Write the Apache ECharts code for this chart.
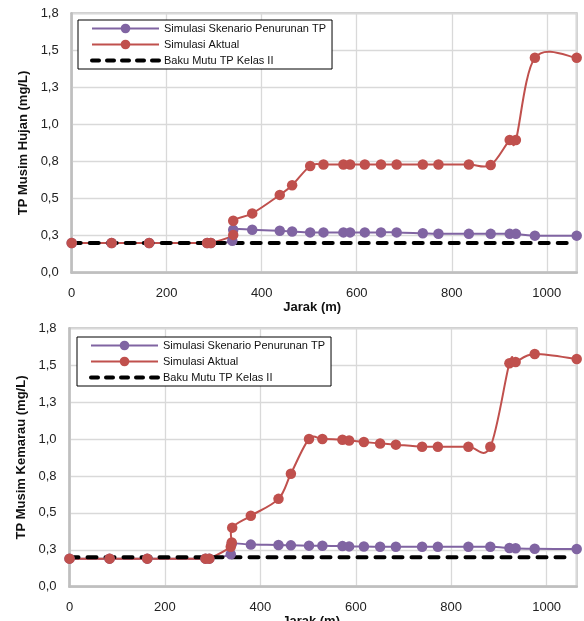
<!DOCTYPE html>
<html>
<head>
<meta charset="utf-8">
<script src="https://cdn.jsdelivr.net/npm/echarts@6/dist/echarts.min.js"></script>
<style>
html,body{margin:0;padding:0;background:#fff;}
#c{width:584px;height:621px;}
</style>
</head>
<body>
<div id="c"></div>
<script>
// ---- data ----
const seriesNames = ['Simulasi Skenario Penurunan TP', 'Simulasi Aktual', 'Baku Mutu TP Kelas II'];
const xAxisName = 'Jarak (m)';
const yAxisNames = ['TP Musim Hujan (mg/L)', 'TP Musim Kemarau (mg/L)'];
const yTickLabels = ['0,0', '0,3', '0,5', '0,8', '1,0', '1,3', '1,5', '1,8'];
const xTickLabels = ['0', '200', '400', '600', '800', '1000'];

// Musim Hujan (top)
const hujanAktualX = [0, 84, 163, 285, 293, 340, 340, 380, 438, 464, 502, 530, 572, 586, 617, 651, 684, 739, 772, 836, 882, 922, 935, 975, 1063];
const hujanAktualY = [0.2, 0.2, 0.2, 0.2, 0.2, 0.255, 0.35, 0.40, 0.525, 0.59, 0.72, 0.73, 0.73, 0.73, 0.73, 0.73, 0.73, 0.73, 0.73, 0.73, 0.726, 0.895, 0.895, 1.45, 1.45];
const hujanSkenarioX = [0, 84, 163, 285, 293, 338, 340, 380, 438, 464, 502, 530, 572, 586, 617, 651, 684, 739, 772, 836, 882, 922, 935, 975, 1063];
const hujanSkenarioY = [0.2, 0.2, 0.2, 0.2, 0.2, 0.215, 0.29, 0.29, 0.283, 0.278, 0.272, 0.272, 0.272, 0.272, 0.272, 0.272, 0.272, 0.266, 0.263, 0.262, 0.262, 0.262, 0.262, 0.25, 0.25];

// Musim Kemarau (bottom)
const kemarauAktualX = [0, 84, 163, 285, 293, 338, 340, 341, 380, 438, 464, 502, 530, 572, 586, 617, 651, 684, 739, 772, 836, 882, 922, 935, 975, 1063];
const kemarauAktualY = [0.19, 0.19, 0.19, 0.19, 0.19, 0.27, 0.30, 0.40, 0.48, 0.595, 0.765, 1.0, 1.0, 0.995, 0.99, 0.98, 0.97, 0.962, 0.948, 0.948, 0.948, 0.948, 1.513, 1.522, 1.576, 1.542];
const kemarauSkenarioX = [0, 84, 163, 285, 293, 338, 340, 380, 438, 464, 502, 530, 572, 586, 617, 651, 684, 739, 772, 836, 882, 922, 935, 975, 1063];
const kemarauSkenarioY = [0.19, 0.19, 0.19, 0.19, 0.19, 0.22, 0.29, 0.285, 0.283, 0.28, 0.278, 0.277, 0.275, 0.273, 0.272, 0.271, 0.271, 0.27, 0.27, 0.27, 0.27, 0.262, 0.26, 0.257, 0.255];

// Baku mutu (both)
const bakuX = [0, 1055];
const bakuY = [0.2, 0.2];

// ---- chart ----
const pairs = (xs, ys) => xs.map((x, i) => [x, ys[i]]);
const FONT = 'Liberation Sans, Arial, sans-serif';
const PURPLE = '#8064A2', RED = '#C0504D';
const X_MAX = 1063;

function xAxisOf(gi) {
  return {
    type: 'value', gridIndex: gi, min: 0, max: X_MAX, interval: 200,
    name: xAxisName, nameLocation: 'middle', nameGap: 23,
    nameTextStyle: { fontFamily: FONT, fontSize: 13, fontWeight: 'bold', color: '#111', padding: [0, 24, 0, 0] },
    axisLine: { show: true, lineStyle: { color: '#BFBFBF', width: 2.5 } },
    axisTick: { show: false },
    axisLabel: { fontFamily: FONT, fontSize: 13, color: '#222', margin: 14, showMaxLabel: false,
      formatter: v => { const i = Math.round(v / 200); return xTickLabels[i] !== undefined && Math.abs(v - i * 200) < 1e-6 ? xTickLabels[i] : ''; } },
    splitLine: { show: true, lineStyle: { color: '#D9D9D9', width: 1.3 } }
  };
}
function yAxisOf(gi) {
  return {
    type: 'value', gridIndex: gi, min: 0, max: 1.75, interval: 0.25,
    name: yAxisNames[gi], nameLocation: 'middle', nameGap: gi === 0 ? 36 : 34,
    nameTextStyle: { fontFamily: FONT, fontSize: 13, fontWeight: 'bold', color: '#111' },
    axisLine: { show: true, lineStyle: { color: '#BFBFBF', width: 2.5 } },
    axisTick: { show: false },
    axisLabel: { fontFamily: FONT, fontSize: 13, color: '#222', margin: 13,
      formatter: v => yTickLabels[Math.round(v / 0.25)] },
    splitLine: { show: true, lineStyle: { color: '#D9D9D9', width: 1.3 } }
  };
}
// Excel-like smoothed line (Catmull-Rom through the data points, in pixel space via api.coord)
function smoothLineOf(gi, xs, ys, color) {
  return {
    type: 'custom', xAxisIndex: gi, yAxisIndex: gi, silent: true, clip: false,
    data: pairs(xs, ys), encode: { x: 0, y: 1 },
    renderItem: (params, api) => {
      if (params.dataIndex !== 0) return null;
      const p = xs.map((x, i) => api.coord([x, ys[i]]));
      let d = 'M' + p[0][0] + ',' + p[0][1];
      for (let i = 0; i < p.length - 1; i++) {
        const p0 = p[i - 1] || p[i], p1 = p[i], p2 = p[i + 1], p3 = p[i + 2] || p[i + 1];
        const c1x = p1[0] + (p2[0] - p0[0]) / 6, c1y = p1[1] + (p2[1] - p0[1]) / 6;
        const c2x = p2[0] - (p3[0] - p1[0]) / 6, c2y = p2[1] - (p3[1] - p1[1]) / 6;
        d += ' C' + c1x + ',' + c1y + ' ' + c2x + ',' + c2y + ' ' + p2[0] + ',' + p2[1];
      }
      return { type: 'path', shape: { pathData: d }, style: { stroke: color, lineWidth: 2, fill: null } };
    }
  };
}
function markersOf(gi, name, xs, ys, color) {
  return { name: name, type: 'line', xAxisIndex: gi, yAxisIndex: gi, data: pairs(xs, ys),
    symbol: 'circle', symbolSize: 10.5, color: color,
    lineStyle: { width: 0, opacity: 0, color: color }, itemStyle: { color: color } };
}
function seriesOf(gi, skX, skY, akX, akY) {
  return [
    smoothLineOf(gi, skX, skY, PURPLE),
    markersOf(gi, seriesNames[0], skX, skY, PURPLE),
    smoothLineOf(gi, akX, akY, RED),
    markersOf(gi, seriesNames[1], akX, akY, RED),
    { name: seriesNames[2], type: 'line', xAxisIndex: gi, yAxisIndex: gi, data: pairs(bakuX, bakuY),
      symbol: 'none', color: '#000',
      lineStyle: { width: 4, color: '#000', type: [9, 9], cap: 'round' } }
  ];
}
function legendOf(left, top) {
  return {
    orient: 'vertical', left: left, top: top,
    data: [
      { name: seriesNames[0], lineStyle: { width: 2, opacity: 1, color: PURPLE } },
      { name: seriesNames[1], lineStyle: { width: 2, opacity: 1, color: RED } },
      { name: seriesNames[2], itemStyle: { opacity: 0 }, lineStyle: { width: 4, color: '#000', type: [7, 8], cap: 'round' } }
    ],
    backgroundColor: '#fff', borderColor: '#000', borderWidth: 1, borderRadius: 0,
    padding: [3, 6, 3, 12], itemWidth: 67, itemHeight: 12, itemGap: 5,
    textStyle: { fontFamily: FONT, fontSize: 11, color: '#111' },
    selectedMode: false
  };
}

const chart = echarts.init(document.getElementById('c'), null, { renderer: 'canvas' });
chart.setOption({
  animation: false,
  backgroundColor: '#fff',
  grid: [
    { left: 71.7, right: 7.3, top: 13.3, height: 259.4, show: true, borderColor: '#BFBFBF', borderWidth: 2, backgroundColor: '#fff', outerBoundsMode: 'none', containLabel: false },
    { left: 69.5, right: 7.3, top: 328.3, height: 258.4, show: true, borderColor: '#BFBFBF', borderWidth: 2, backgroundColor: '#fff', outerBoundsMode: 'none', containLabel: false }
  ],
  legend: [legendOf(78, 20), legendOf(77, 337)],
  xAxis: [xAxisOf(0), xAxisOf(1)],
  yAxis: [yAxisOf(0), yAxisOf(1)],
  series: seriesOf(0, hujanSkenarioX, hujanSkenarioY, hujanAktualX, hujanAktualY)
    .concat(seriesOf(1, kemarauSkenarioX, kemarauSkenarioY, kemarauAktualX, kemarauAktualY))
});
</script>
</body>
</html>
